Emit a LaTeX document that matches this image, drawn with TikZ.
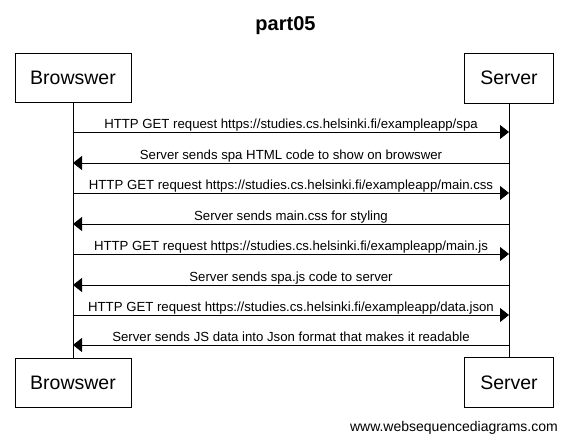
\documentclass[tikz,border=0pt]{standalone}
\usepackage{fontspec}
\setmainfont{Liberation Sans}
\usetikzlibrary{arrows.meta}
\tikzset{
  part/.style={draw=black, line width=1pt, fill=white, inner sep=0pt, font=\fontsize{19.5}{22}\selectfont},
  life/.style={draw=black, line width=1pt},
  msg/.style={draw=black, line width=1pt, -{Triangle[length=9pt,width=14pt]}},
  lbl/.style={anchor=base, inner sep=0pt, font=\fontsize{13.2}{15}\selectfont}
}
\begin{document}
\begin{tikzpicture}[x=1pt,y=-1pt]
\useasboundingbox (0,0) rectangle (568,442);
\fill[white] (0,0) rectangle (568,442);
\node[anchor=base, inner sep=0pt, font=\bfseries\fontsize{20}{24}\selectfont] (title) at (285.5,30) {part05};
% participants
\node[part, minimum width=116pt, minimum height=49pt] (bt) at (73,77.5) {Browswer};
\node[part, minimum width=89pt, minimum height=50pt] (st) at (509,78) {Server};
\node[part, minimum width=116pt, minimum height=49pt] (bb) at (73,382.5) {Browswer};
\node[part, minimum width=89pt, minimum height=50pt] (sb) at (509,382.5) {Server};
\draw[life] (bt.south) -- (bb.north);
\draw[life] (st.south) -- (sb.north);
% message anchors
\foreach \i/\y in {1/132,2/163,3/193,4/224,5/254,6/285,7/315,8/345}{
  \coordinate (b\i) at (73,\y);
  \coordinate (s\i) at (509,\y);
  \coordinate (m\i) at (291,\y-4);
}
\draw[msg] (b1) -- (s1);
\node[lbl] (l1) at (m1) {HTTP GET request https://studies.cs.helsinki.fi/exampleapp/spa};
\draw[msg] (s2) -- (b2);
\node[lbl] (l2) at (m2) {Server sends spa HTML code to show on browswer};
\draw[msg] (b3) -- (s3);
\node[lbl] (l3) at (m3) {HTTP GET request https://studies.cs.helsinki.fi/exampleapp/main.css};
\draw[msg] (s4) -- (b4);
\node[lbl] (l4) at (m4) {Server sends main.css for styling};
\draw[msg] (b5) -- (s5);
\node[lbl] (l5) at (m5) {HTTP GET request https://studies.cs.helsinki.fi/exampleapp/main.js};
\draw[msg] (s6) -- (b6);
\node[lbl] (l6) at (m6) {Server sends spa.js code to server};
\draw[msg] (b7) -- (s7);
\node[lbl] (l7) at (m7) {HTTP GET request https://studies.cs.helsinki.fi/exampleapp/data.json};
\draw[msg] (s8) -- (b8);
\node[lbl] (l8) at (m8) {Server sends JS data into Json format that makes it readable};
\node[anchor=base east, inner sep=0pt, font=\fontsize{14}{16}\selectfont] (wm) at (558,431) {www.websequencediagrams.com};
\end{tikzpicture}
\end{document}
